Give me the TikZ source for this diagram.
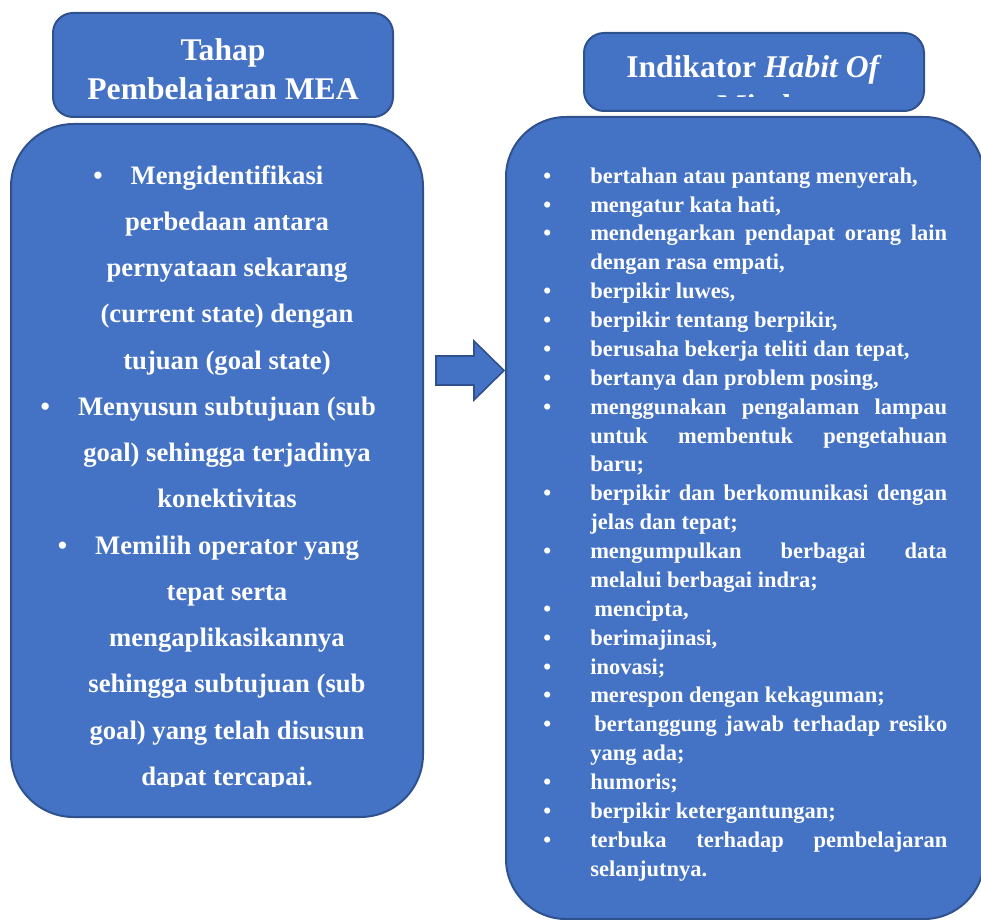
\documentclass[tikz,border=0pt]{standalone}
\usepackage{fontspec}
\setmainfont{Liberation Serif}[BoldFont={Liberation Serif Bold},BoldItalicFont={Liberation Serif Bold Italic}]
\definecolor{biru}{HTML}{4472C4}
\definecolor{garis}{HTML}{2F528F}
\tolerance=10000
\hbadness=10000
\newcommand{\butir}{\llap{\textbullet\hspace{21pt}}}
\newcommand{\indi}[1]{\par\noindent\hangindent=35.25pt\hangafter=1\makebox[35.25pt][l]{\textbullet}#1\par}

\begin{document}
\begin{tikzpicture}[x=0.75pt,y=-0.75pt,
    bentuk/.style={draw=garis,fill=biru,line width=1.5pt},
    kotak/.style={bentuk,rectangle,inner sep=0pt}]
    \tikzstyle{teks}=[text=white,inner sep=0pt]

    \useasboundingbox (0,0) rectangle (981,920);

    % kotak kiri
    \node[kotak,minimum width=255pt,minimum height=78pt,rounded corners=15pt] (kotakTahap) at (223,65) {};
    \node[kotak,minimum width=309pt,minimum height=519.75pt,rounded corners=47pt] (kotakMEA) at (217,470.5) {};

    % kotak kanan
    \node[kotak,minimum width=255pt,minimum height=58.5pt,rounded corners=15pt] (kotakJudul) at (754,72) {};
    \node[kotak,minimum width=358.5pt,minimum height=601.5pt,rounded corners=45pt] (kotakHOM) at (745,518) {};

    % panah
    \draw[bentuk,line width=1.2pt] (436,356) -- (474,356) -- (474,341) -- (504,370.5)
        -- (474,400) -- (474,385) -- (436,385) -- cycle;

    \begin{scope}
      \clip (53,13) rectangle (393,101);
      \node[teks,align=center,anchor=north,font=\fontsize{23.7pt}{29.25pt}\selectfont\bfseries]
        (tahap) at (223,38.6) {Tahap\\Pembelajaran MEA};
    \end{scope}

    \begin{scope}
      \clip (584,33) rectangle (924,97);
      \node[teks,align=center,anchor=north,font=\fontsize{23.7pt}{29.25pt}\selectfont\bfseries]
        (judul) at (754,55.2) {Indikator \textit{Habit Of}\\Mind};
    \end{scope}

    \begin{scope}
      \clip (11,124) rectangle (423,786);
      \node[teks,align=center,anchor=north,font=\fontsize{20pt}{34.7pt}\selectfont\bfseries]
        (langkah) at (227,165) {\butir Mengidentifikasi\\
        perbedaan antara\\
        pernyataan sekarang\\
        (current state) dengan\\
        tujuan (goal state)\\
        \butir Menyusun subtujuan (sub\\
        goal) sehingga terjadinya\\
        konektivitas\\
        \butir Memilih operator yang\\
        tepat serta\\
        mengaplikasikannya\\
        sehingga subtujuan (sub\\
        goal) yang telah disusun\\
        dapat tercapai.};
    \end{scope}

    \node[teks,align=justify,text width=303pt,anchor=north west,
        font=\fontsize{16.875pt}{21.66pt}\selectfont\bfseries] (daftar) at (543,154) {%
      \indi{bertahan atau pantang menyerah,}
      \indi{mengatur kata hati,}
      \indi{mendengarkan pendapat orang lain\linebreak dengan rasa empati,}
      \indi{berpikir luwes,}
      \indi{berpikir tentang berpikir,}
      \indi{berusaha bekerja teliti dan tepat,}
      \indi{bertanya dan problem posing,}
      \indi{menggunakan pengalaman lampau\linebreak untuk membentuk pengetahuan\linebreak baru;}
      \indi{berpikir dan berkomunikasi dengan\linebreak jelas dan tepat;}
      \indi{mengumpulkan berbagai data\linebreak melalui berbagai indra;}
      \indi{\hspace*{3pt}mencipta,}
      \indi{berimajinasi,}
      \indi{inovasi;}
      \indi{merespon dengan kekaguman;}
      \indi{\hspace*{3pt}bertanggung jawab terhadap resiko\linebreak yang ada;}
      \indi{humoris;}
      \indi{berpikir ketergantungan;}
      \indi{terbuka terhadap pembelajaran\linebreak selanjutnya.}};

\end{tikzpicture}
\end{document}
